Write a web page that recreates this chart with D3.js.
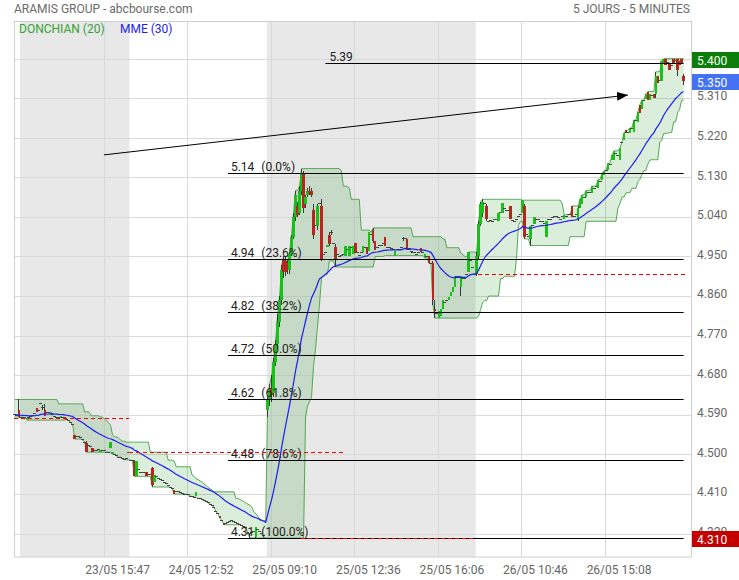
<!DOCTYPE html>
<html><head><meta charset="utf-8">
<script src="https://cdn.jsdelivr.net/npm/d3@7"></script>
<style>
html,body{margin:0;padding:0;background:#fff;}
svg{display:block;font-family:Roboto,"Liberation Sans",sans-serif;}
</style></head><body>
<svg id="c" width="739" height="580"></svg>
<script>
const title = "ARAMIS GROUP - abcbourse.com";
const period = "5 JOURS - 5 MINUTES";
const legendNames = ["DONCHIAN (20)", "MME (30)"];
const dayNames = ["22/05", "23/05", "24/05", "25/05", "26/05"];

// candles: number = single price, [open, close], or [open, high, low, close]
const prior = [4.59,4.59,4.595,4.59,4.585,4.59,4.59,4.595,4.59,4.59,4.585,4.59,4.59,[4.59,4.625,4.585,4.595],4.59,4.59,4.59,4.585,4.59,4.59];
const day22 = [4.59,4.588,[4.60,4.625,4.585,4.585]];
const day23 = [4.585,4.585,4.583,[4.578,4.583],4.583,4.587,4.588,4.592,[4.605,4.597],4.60,4.615,[4.606,4.612,4.60,4.606],[4.60,4.615,4.587,4.588],4.595,4.595,[4.593,4.597],4.59,4.587,4.585,4.585,[4.583,4.588],4.585,[4.585,4.58],4.58,4.577,4.572,4.567,[4.545,4.535],4.54,4.54,4.538,4.533,4.528,[4.527,4.53,4.505,4.506],4.52,4.518,[4.515,4.506],4.51,4.51,4.512,[4.506,4.51],4.508,4.508,4.505,4.505,[4.515,4.528],[4.501,4.506],4.50,4.497,4.494,4.494,4.49,4.488,4.49,4.505];
const day24 = [4.487,4.487,[4.485,4.487,4.45,4.45],[4.452,4.485],4.465,4.46,4.46,4.458,[4.46,4.452],4.455,4.455,[4.47,4.472,4.426,4.43],[4.437,4.453],4.45,4.445,4.443,4.44,4.437,4.433,4.43,4.425,4.422,[4.419,4.41],4.415,4.415,4.413,4.412,4.41,4.41,4.408,4.405,4.405,4.403,[4.405,4.415],4.40,4.40,4.398,4.395,4.393,4.39,4.387,4.385,4.38,4.37,4.365,[4.36,4.355],4.35,[4.345,4.34],4.343,4.345,4.348,4.35,4.347,4.345,4.343,4.34,4.338,4.336,4.335,[4.324,4.32],[4.32,4.322,4.31,4.32],4.322,4.325,[4.312,4.335,4.31,4.335],4.33,4.325,4.32,4.315,4.31];
const day25 = [[4.60,4.63,4.585,4.625],[4.625,4.66,4.61,4.65],[4.65,4.68,4.62,4.635],[4.64,4.72,4.63,4.71],[4.71,4.76,4.70,4.75],[4.75,4.82,4.74,4.80],[4.80,4.86,4.79,4.85],[4.85,4.93,4.84,4.92],[4.945,4.95,4.90,4.915],[4.94,4.95,4.905,4.915],[4.935,4.945,4.91,4.92],[4.92,4.96,4.91,4.955],[4.955,5.00,4.95,4.995],[4.995,5.05,4.99,5.04],[5.04,5.10,5.03,5.09],[5.065,5.075,5.04,5.045],[5.05,5.11,5.045,5.10],[5.10,5.15,5.09,5.14],[5.14,5.145,5.05,5.06],[5.07,5.09,5.06,5.085],[5.09,5.105,5.085,5.10],[5.10,5.11,5.09,5.095],[5.10,5.105,5.085,5.09],[5.055,5.07,4.99,5.00],5.02,[5.02,5.07,5.01,5.065],5.07,[5.065,5.08,4.94,4.945],4.955,4.96,[4.972,4.977],[5.00,5.005,4.975,4.978],[5.005,5.01,5.00,5.005],4.98,[4.972,4.978,4.926,4.945],4.955,4.95,4.953,4.955,[4.95,4.974],4.965,[4.952,4.975],4.97,[4.955,4.975],[4.98,4.958],4.96,4.952,4.96,[4.96,4.975],4.97,[4.972,4.955],[4.962,5.005],5.00,[5.01,5.015,4.98,4.985],[4.985,4.965],4.97,4.975,4.975,4.98,[4.995,4.975],4.97,4.97,4.968,4.965,[4.952,4.962],4.965,4.965,4.97,[4.99,4.995,4.985,4.99],4.99,[4.99,4.965],4.965,4.962,4.96,4.958,4.955,4.96,[4.97,4.96],4.958,[4.947,4.955],4.95,[4.95,4.935],4.935,[4.935,4.94,4.84,4.85],[4.83,4.85,4.81,4.825],4.82,[4.81,4.825],[4.815,4.83],[4.83,4.85],4.845,4.85,[4.85,4.857],[4.86,4.87],[4.87,4.88],[4.88,4.905],4.905,4.905,[4.88,4.905,4.86,4.905],4.90,4.90,4.91,[4.915,4.96],4.94,4.925,4.91];
const day26 = [[4.91,4.96,4.905,4.95],[4.95,5.03,4.945,5.025],[5.025,5.075,5.02,5.07],[5.05,5.08,5.04,5.075],5.07,[5.065,5.07,5.03,5.035],5.03,5.032,5.03,5.035,5.035,[5.03,5.05],5.05,[5.05,5.072],5.06,5.055,5.055,[5.065,5.035],5.032,5.03,5.035,5.04,5.045,[5.05,5.078],[5.065,5.07,4.99,4.995],5.00,4.995,[4.99,5.02,4.975,5.02],5.02,[5.025,5.04],5.035,5.035,5.03,5.03,5.025,[4.995,5.03],5.035,5.035,5.038,5.04,5.04,5.038,5.035,5.04,[5.035,5.045],5.042,5.045,5.045,[5.065,5.04],5.04,5.045,[5.035,5.065,5.03,5.06],[5.06,5.08],[5.07,5.09],5.085,[5.085,5.10],5.095,5.095,[5.095,5.11],5.105,5.11,[5.105,5.125],5.12,[5.125,5.14],[5.135,5.145],5.145,[5.146,5.162],5.16,[5.169,5.18],[5.17,5.19],5.185,5.18,[5.17,5.197],5.21,[5.215,5.23],[5.237,5.23],5.232,[5.23,5.242],5.24,[5.232,5.26],5.26,[5.256,5.278],[5.295,5.277],[5.285,5.305],5.305,[5.307,5.32],[5.325,5.305],[5.305,5.32],5.315,[5.32,5.31],[5.32,5.37,5.31,5.36],[5.36,5.345],5.35,[5.35,5.395],[5.39,5.40],[5.40,5.385],5.39,[5.39,5.375],5.385,[5.40,5.39],5.395,[5.40,5.40,5.36,5.375],[5.395,5.385],[5.40,5.39],[5.36,5.365,5.34,5.35]];

const xTickIndex = [45, 87, 129, 171, 213, 255, 297];
const xTickLabels = ["23/05 15:47", "24/05 12:52", "25/05 09:10", "25/05 12:36", "25/05 16:06", "26/05 10:46", "26/05 15:08"];
const yTicks = [4.32, 4.41, 4.50, 4.59, 4.68, 4.77, 4.86, 4.95, 5.04, 5.13, 5.22, 5.31, 5.40];

const fibHigh = 5.14, fibLow = 4.31;
const fibRatios = [0, 0.236, 0.382, 0.5, 0.618, 0.786, 1];
const fibPrices = ["5.14", "4.94", "4.82", "4.72", "4.62", "4.48", "4.31"];
const fibPercents = ["(0.0%)", "(23.6%)", "(38.2%)", "(50.0%)", "(61.8%)", "(78.6%)", "(100.0%)"];
const fibFromIndex = 107;
const levelValue = 5.39, levelFromIndex = 156, levelLabel = "5.39";
const prevCloseValues = [4.585, 4.505, 4.308, 4.912];
const prevCloseFrom = [0, 58, 144, 233];
const prevCloseTo = [58, 167, 232, 337];
const arrowStart = [44.7, 5.181];
const arrowEnd = [308.0, 5.317];
const donchianPeriod = 20, emaPeriod = 30;
const totalSlots = 340.2;

// ---------- build ----------
function norm(c) {
  if (typeof c === "number") return {o: c, h: c, l: c, c: c};
  if (c.length === 2) return {o: c[0], c: c[1], h: Math.max(c[0], c[1]), l: Math.min(c[0], c[1])};
  return {o: c[0], h: c[1], l: c[2], c: c[3]};
}
const days = [day22, day23, day24, day25, day26];
const all = prior.concat(...days).map(norm);
const off = prior.length;
const upper = [], lower = [], ema = [];
let e = null;
all.forEach((d, g) => {
  let hi = -Infinity, lo = Infinity;
  for (let k = Math.max(0, g - donchianPeriod + 1); k <= g; k++) { hi = Math.max(hi, all[k].h); lo = Math.min(lo, all[k].l); }
  upper.push(hi); lower.push(lo);
  e = e === null ? d.c : e + (2 / (emaPeriod + 1)) * (d.c - e);
  ema.push(e);
});
const candles = all.slice(off);
const N = candles.length;
const vis = d3.range(N);

const L = 14, R = 691, T = 21.5, B = 557;
const x = d3.scaleLinear().domain([0, totalSlots]).range([L, R]);
const xc = i => x(i + 0.5);
const y = d3.scaleLinear().domain([4.2669, 5.4842]).range([B, T]);
const crisp = v => Math.round(v) + 0.5;

const svg = d3.select("#c");
svg.append("defs").append("marker").attr("id", "ah").attr("markerUnits", "userSpaceOnUse")
  .attr("markerWidth", 12).attr("markerHeight", 10).attr("refX", 11).attr("refY", 4.5).attr("orient", "auto")
  .append("path").attr("d", "M0,0 L11,4.5 L0,9 Z").attr("fill", "#000");

// day background bands
let start = 0;
days.forEach((d, k) => {
  const s0 = start, s1 = start + d.length; start = s1;
  if (k % 2 === 1) {
    const x0 = Math.max(L, x(s0)), x1 = k === days.length - 1 ? R : x(s1);
    svg.append("rect").attr("x", x0).attr("y", T).attr("width", x1 - x0).attr("height", B - T).attr("fill", "#e8e8e8");
  }
});

// grid
const grid = svg.append("g").attr("stroke", "#d9d9d9").attr("stroke-width", 1);
yTicks.forEach(v => grid.append("line").attr("x1", L).attr("x2", R).attr("y1", crisp(y(v))).attr("y2", crisp(y(v))));
xTickIndex.forEach(i => grid.append("line").attr("x1", crisp(x(i))).attr("x2", crisp(x(i))).attr("y1", T).attr("y2", B));
svg.append("rect").attr("x", L + 0.5).attr("y", T).attr("width", R - L).attr("height", B - T)
  .attr("fill", "none").attr("stroke", "#cfcfcf");

// Donchian
const area = d3.area().x(i => xc(i)).y0(i => y(lower[i + off])).y1(i => y(upper[i + off]));
svg.append("path").datum(vis).attr("d", area).attr("fill", "rgba(0,128,0,0.14)");
const lineU = d3.line().x(i => xc(i)).y(i => y(upper[i + off]));
const lineL = d3.line().x(i => xc(i)).y(i => y(lower[i + off]));
svg.append("path").datum(vis).attr("d", lineU).attr("fill", "none").attr("stroke", "#52a852").attr("stroke-width", 1);
svg.append("path").datum(vis).attr("d", lineL).attr("fill", "none").attr("stroke", "#52a852").attr("stroke-width", 1);

// candles
const cg = svg.append("g").attr("shape-rendering", "crispEdges");
candles.forEach((d, i) => {
  const cx = xc(i);
  if (d.h !== d.l) {
    cg.append("line").attr("x1", Math.floor(cx) + 0.5).attr("x2", Math.floor(cx) + 0.5)
      .attr("y1", y(d.h)).attr("y2", y(d.l)).attr("stroke", "#3a3a3a").attr("stroke-width", 1);
  }
  if (d.o === d.c) {
    cg.append("rect").attr("x", cx - 1.5).attr("y", y(d.c) - 0.5).attr("width", 3).attr("height", 1).attr("fill", "#444");
  } else {
    const top = y(Math.max(d.o, d.c)), bot = y(Math.min(d.o, d.c));
    cg.append("rect").attr("x", cx - 1.25).attr("y", top).attr("width", 2.5).attr("height", Math.max(1, bot - top))
      .attr("fill", d.c > d.o ? "#18c018" : "#b5261c");
  }
});

// EMA
const lineE = d3.line().x(i => xc(i)).y(i => y(ema[i + off]));
svg.append("path").datum(vis).attr("d", lineE).attr("fill", "none").attr("stroke", "#1d1df0").attr("stroke-width", 1.2);

// Fibonacci
const fg = svg.append("g");
const lastX = xc(N - 1);
fibRatios.forEach((r, k) => {
  const v = fibHigh - r * (fibHigh - fibLow);
  const yy = crisp(y(v));
  fg.append("line").attr("x1", xc(fibFromIndex)).attr("x2", lastX).attr("y1", yy).attr("y2", yy).attr("stroke", "#000");
  const t = fg.append("text").attr("x", xc(fibFromIndex) + 3).attr("y", yy - 2.5).attr("font-size", 12).attr("fill", "#222");
  t.append("tspan").text(fibPrices[k]);
  t.append("tspan").attr("dx", 7).text(fibPercents[k]);
});
{
  const yy = crisp(y(levelValue));
  fg.append("line").attr("x1", xc(levelFromIndex)).attr("x2", lastX).attr("y1", yy).attr("y2", yy).attr("stroke", "#000");
  fg.append("text").attr("x", xc(levelFromIndex) + 4).attr("y", yy - 2.5).attr("font-size", 12).attr("fill", "#222").text(levelLabel);
}

// previous close dashed lines
const pg = svg.append("g").attr("fill", "#ff0000").attr("shape-rendering", "crispEdges");
prevCloseValues.forEach((v, k) => {
  const yy = 2 * Math.round(y(v) / 2);
  const x0 = Math.max(L, x(prevCloseFrom[k])), x1 = Math.min(R - 4, x(prevCloseTo[k]));
  for (let xx = x0; xx < x1; xx += 7) {
    pg.append("rect").attr("x", Math.round(xx)).attr("y", yy).attr("width", Math.min(4, x1 - xx)).attr("height", 1);
  }
});

// arrow
svg.append("line").attr("x1", xc(arrowStart[0])).attr("y1", y(arrowStart[1]))
  .attr("x2", xc(arrowEnd[0])).attr("y2", y(arrowEnd[1])).attr("stroke", "#000").attr("marker-end", "url(#ah)");

// value boxes data
const maxHigh = d3.max(candles, d => d.h), minLow = d3.min(candles, d => d.l), lastClose = candles[N - 1].c;
const boxes = [[maxHigh, "#0b7d0b"], [lastClose, "#4472f5"], [minLow, "#c40000"]];

// y tick labels (a tick whose label equals a box value is shown by the box itself)
const yl = svg.append("g").attr("font-size", 12).attr("fill", "#666");
yTicks.filter(v => !boxes.some(b => b[0].toFixed(3) === v.toFixed(3)))
  .forEach(v => yl.append("text").attr("x", 697).attr("y", y(v) + 2.3).text(v.toFixed(3)));

boxes.forEach(([v, col]) => {
  const cy = Math.round(y(v)) + 1;
  svg.append("rect").attr("x", 692).attr("y", cy - 8).attr("width", 47).attr("height", 16).attr("fill", col);
  svg.append("text").attr("x", 697).attr("y", cy + 4.5).attr("font-size", 12).attr("fill", "#fff").text(v.toFixed(3));
});

// x tick labels
xTickIndex.forEach((i, k) => svg.append("text").attr("x", x(i) + 14).attr("y", 574).attr("text-anchor", "middle")
  .attr("font-size", 12).attr("fill", "#666").text(xTickLabels[k]));

// header and legend
svg.append("text").attr("x", 14).attr("y", 13).attr("font-size", 12).attr("fill", "#6b6b6b").text(title);
svg.append("text").attr("x", 690).attr("y", 13).attr("text-anchor", "end").attr("font-size", 12).attr("fill", "#6b6b6b").text(period);
svg.append("text").attr("x", 19).attr("y", 33).attr("font-size", 12).attr("fill", "#34a234").text(legendNames[0]);
svg.append("text").attr("x", 120).attr("y", 33).attr("font-size", 12).attr("fill", "#1d1df0").text(legendNames[1]);
</script>
</body></html>
